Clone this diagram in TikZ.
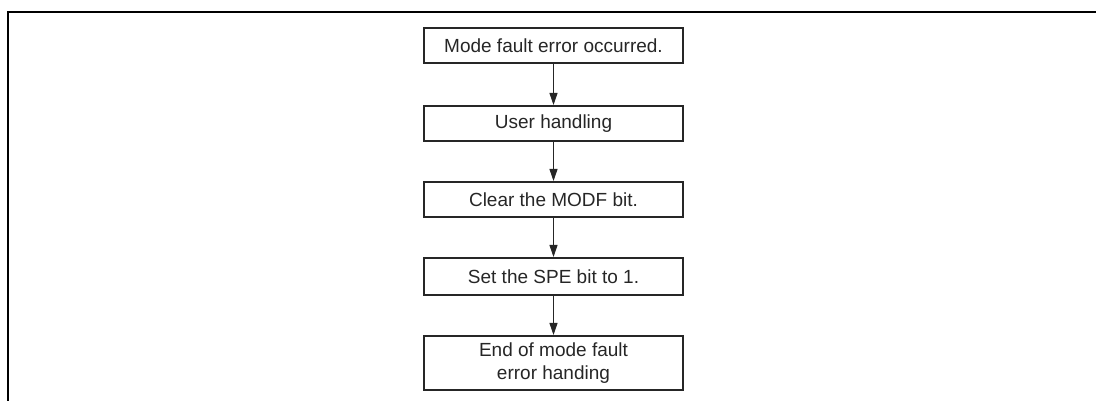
\documentclass[tikz,border=0pt]{standalone}
\usepackage{fontspec}
\setmainfont{Liberation Sans}
\usetikzlibrary{arrows.meta}
\begin{document}
\begin{tikzpicture}[x=1pt,y=1pt,
  stepbox/.style={draw=black!85,line width=2pt,minimum width=259pt,inner sep=0pt,
    font=\fontsize{19}{22.5}\selectfont,align=center,text=black!85},
  flow/.style={draw=black!85,line width=1pt,-{Triangle[length=12pt,width=8pt]}}]
\useasboundingbox (0,0) rectangle (1096,401);
\draw[line width=2.5pt] (8,0) -- (8,389) -- (1096,389);
\node[stepbox,minimum height=35pt] (a) at (553.5,355.5) {Mode fault error occurred.};
\node[stepbox,minimum height=35pt] (b) at (553.5,277.5) {User handling};
\node[stepbox,minimum height=35pt] (c) at (553.5,201.5) {Clear the MODF bit.};
\node[stepbox,minimum height=37pt] (d) at (553.5,124.5) {Set the SPE bit to 1.};
\node[stepbox,minimum height=54pt] (e) at (553.5,38) {End of mode fault\\error handing};
\draw[flow] (a) -- (b);
\draw[flow] (b) -- (c);
\draw[flow] (c) -- (d);
\draw[flow] (d) -- (e);
\end{tikzpicture}
\end{document}
